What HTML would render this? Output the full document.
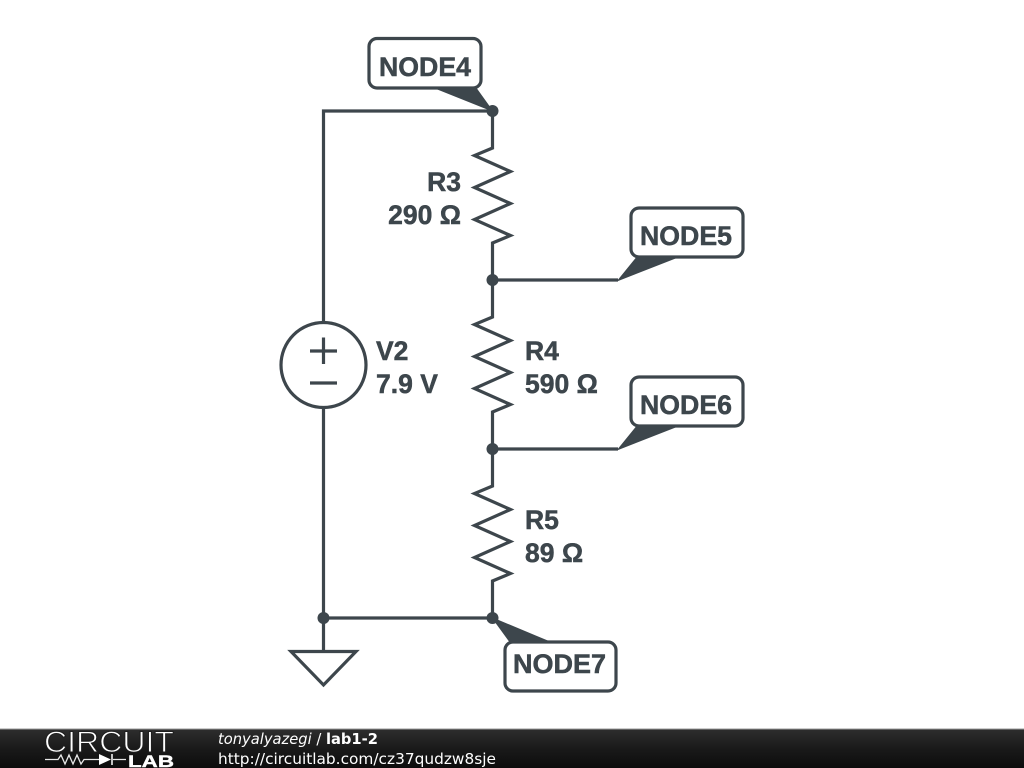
<!DOCTYPE html>
<html>
<head>
<meta charset="utf-8">
<style>
html,body{margin:0;padding:0;background:#fff;width:1024px;height:768px;overflow:hidden}
svg{display:block;position:absolute;left:0;top:0}
.t{font-family:"Liberation Sans",sans-serif;font-weight:bold;font-size:26.5px;fill:#3d464c;stroke:#3d464c;stroke-width:0.5px}
.f{font-family:"DejaVu Sans",sans-serif;font-size:14.7px;fill:#fff}
</style>
</head>
<body>
<svg width="1024" height="768" viewBox="0 0 1024 768" xmlns="http://www.w3.org/2000/svg">
<defs>
<linearGradient id="g" x1="0" y1="0" x2="0" y2="1">
<stop offset="0" stop-color="#2e2e2e"/>
<stop offset="0.5" stop-color="#1a1a1a"/>
<stop offset="1" stop-color="#0c0c0c"/>
</linearGradient>
</defs>
<rect width="1024" height="768" fill="#fff"/>

<g fill="none" stroke="#3d464c" stroke-width="3.2" stroke-linejoin="miter">
<!-- wires -->
<path d="M492.5 111H323.5V322"/>
<path d="M323.5 407V651"/>
<path d="M323.500 618H492.500"/>
<path d="M492.500 111V148L474.500 155.500L510.500 171.500L474.500 187.500L510.500 203.500L474.500 219.500L510.500 235.500L492.500 243V280"/>
<path d="M492.500 280V317L474.500 324.500L510.500 340.500L474.500 356.500L510.500 372.500L474.500 388.500L510.500 404.500L492.500 412V449"/>
<path d="M492.500 449V486L474.500 493.500L510.500 509.500L474.500 525.500L510.500 541.500L474.500 557.500L510.500 573.500L492.500 581V618"/>
<path d="M492.500 280H618"/>
<path d="M492.500 449H618"/>
<!-- source -->
<circle cx="323.500" cy="365" r="42.500"/>
<path d="M310 351H337M323.500 337.500V364M310 383H337"/>
<!-- ground -->
<path d="M291 651.500H356L323.500 685Z"/>
<!-- label boxes -->
<rect x="369" y="38.500" width="112" height="49.500" rx="8"/>
<rect x="631" y="208" width="112" height="49" rx="8"/>
<rect x="631" y="377" width="112" height="49" rx="8"/>
<rect x="505" y="642" width="111" height="49" rx="8"/>
</g>

<!-- label tails -->
<g fill="#3d464c" stroke="#3d464c" stroke-width="1" stroke-linejoin="round">
<path d="M435 88L476 88L492.500 111Z"/>
<path d="M637 257L678 257L618 280.500Z"/>
<path d="M637 426L678 426L618 449.500Z"/>
<path d="M492.500 618L550 642L510 642Z"/>
</g>
<!-- junction dots -->
<g fill="#3d464c">
<circle cx="492.500" cy="111" r="6"/>
<circle cx="492.500" cy="280" r="6"/>
<circle cx="492.500" cy="449" r="6"/>
<circle cx="492.500" cy="618" r="6"/>
<circle cx="323.500" cy="618" r="6"/>
</g>

<!-- labels -->
<text class="t" x="379" y="76" textLength="92" lengthAdjust="spacingAndGlyphs">NODE4</text>
<text class="t" x="640" y="245" textLength="92" lengthAdjust="spacingAndGlyphs">NODE5</text>
<text class="t" x="640" y="414" textLength="92" lengthAdjust="spacingAndGlyphs">NODE6</text>
<text class="t" x="513" y="673" textLength="93" lengthAdjust="spacingAndGlyphs">NODE7</text>

<text class="t" x="461" y="191" text-anchor="end">R3</text>
<text class="t" x="461" y="224" text-anchor="end">290 Ω</text>
<text class="t" x="525" y="360">R4</text>
<text class="t" x="525" y="393">590 Ω</text>
<text class="t" x="525" y="529">R5</text>
<text class="t" x="525" y="562">89 Ω</text>
<text class="t" x="376" y="360">V2</text>
<text class="t" x="376" y="393">7.9 V</text>

<!-- footer -->
<rect x="0" y="729" width="1024" height="39" fill="url(#g)"/>
<rect x="0" y="728.500" width="1024" height="1" fill="#9a9a9a"/>
<text x="44" y="752" font-family="'Liberation Sans',sans-serif" font-size="30" fill="#fff" stroke="#1e1e1e" stroke-width="1" textLength="130" lengthAdjust="spacingAndGlyphs">CIRCUIT</text>
<text x="128" y="767" font-family="'Liberation Sans',sans-serif" font-weight="bold" font-size="17" fill="#fff" stroke="#fff" stroke-width="0.4" textLength="46" lengthAdjust="spacingAndGlyphs">LAB</text>
<path d="M45 759.500H58L61 755L65 764L69 755L73 764L77 755L81 764L84 759.500H99M113 759.500H126" fill="none" stroke="#e8e8e8" stroke-width="1.300"/>
<path d="M99 754V765L111 759.500Z" fill="#fff"/>
<path d="M112 754V765" stroke="#fff" stroke-width="1.500"/>
<text class="f" x="218" y="744"><tspan font-style="italic">tonyalyazegi</tspan> / <tspan font-weight="bold">lab1-2</tspan></text>
<text class="f" x="218" y="764" textLength="278" lengthAdjust="spacingAndGlyphs">http://circuitlab.com/cz37qudzw8sje</text>
</svg>
</body>
</html>
